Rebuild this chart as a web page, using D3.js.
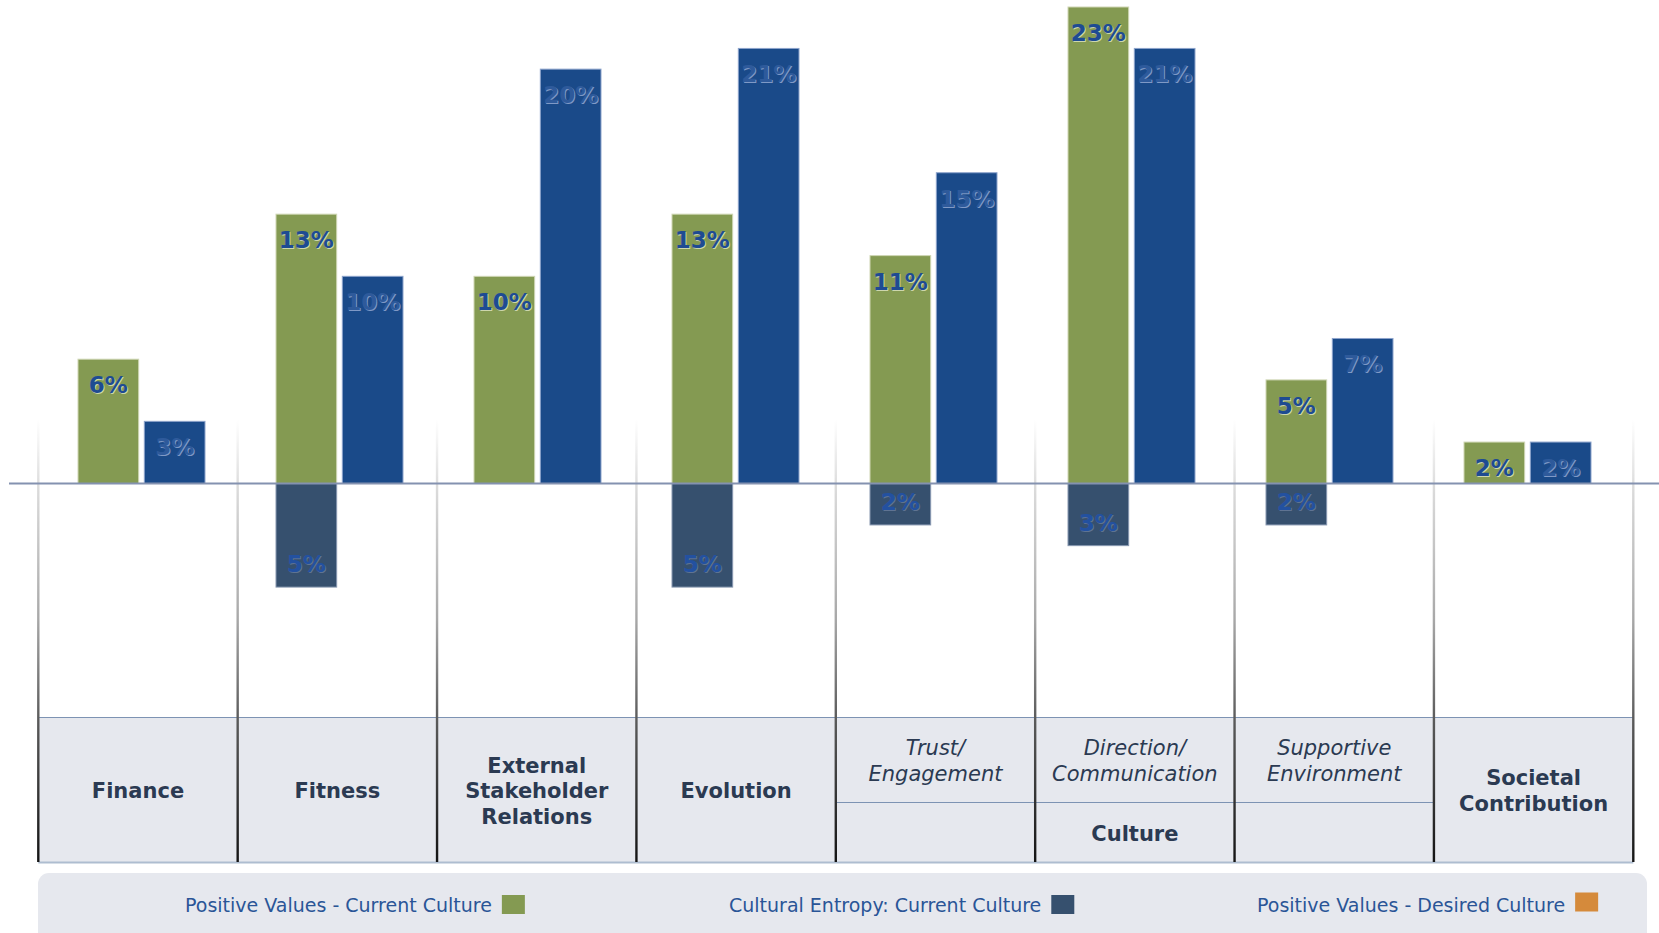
<!DOCTYPE html>
<html>
<head>
<meta charset="utf-8">
<script src="https://cdn.jsdelivr.net/npm/d3@7"></script>
<style>
  html, body { margin: 0; padding: 0; background: #ffffff; }
  svg { display: block; }
</style>
</head>
<body>
<svg id="chart" width="1659" height="933"></svg>
<script>
// ---- data ----
const categories = [
  "Finance", "Fitness", "External Stakeholder Relations", "Evolution",
  "Trust/ Engagement", "Direction/ Communication", "Supportive Environment", "Societal Contribution"
];
const headerLines = [
  ["Finance"], ["Fitness"], ["External", "Stakeholder", "Relations"], ["Evolution"],
  ["Trust/", "Engagement"], ["Direction/", "Communication"], ["Supportive", "Environment"],
  ["Societal", "Contribution"]
];
const cultureColumns = ["Trust/ Engagement", "Direction/ Communication", "Supportive Environment"];
const cultureLabel = "Culture";

const positiveCurrent = [6, 13, 10, 13, 11, 23, 5, 2];   // green bars
const positiveDesired = [3, 10, 20, 21, 15, 21, 7, 2];   // blue bars
const entropyCurrent  = [0, 5, 0, 5, 2, 3, 2, 0];        // below the axis

const legendLabels = [
  "Positive Values - Current Culture",
  "Cultural Entropy: Current Culture",
  "Positive Values - Desired Culture"
];

// ---- styling ----
const COLORS = {
  current: "#849a52",
  desired: "#1a4a89",
  entropy: "#36506e",
  desiredSwatch: "#d58a3b"
};
const legendColors = [COLORS.current, COLORS.entropy, COLORS.desiredSwatch];

const svg = d3.select("#chart");

// ---- scales ----
const y = d3.scaleLinear().domain([0, 23]).range([483.5, 7]);
const xBar = d3.scaleBand().domain(categories).range([42.5, 1626.5]);
const pairWidth = 128;
const xSub = d3.scaleBand().domain(["current", "desired"])
  .range([(xBar.bandwidth() - pairWidth) / 2, (xBar.bandwidth() + pairWidth) / 2])
  .paddingInner(0.07);
const xCol = d3.scaleBand().domain(categories).range([38.3, 1633.3]);

const tableTop = 717.5, tableBottom = 862, cultureSplit = 802.5;

// ---- gradients ----
const defs = svg.append("defs");
const grad = defs.append("linearGradient")
  .attr("id", "dividerGrad")
  .attr("gradientUnits", "userSpaceOnUse")
  .attr("x1", 0).attr("x2", 0).attr("y1", 420).attr("y2", tableBottom);
grad.append("stop").attr("offset", 0).attr("stop-color", "#ffffff");
grad.append("stop").attr("offset", 0.15).attr("stop-color", "#dcdcdc");
grad.append("stop").attr("offset", 0.45).attr("stop-color", "#a8a8a8");
grad.append("stop").attr("offset", 0.68).attr("stop-color", "#5a5a5a");
grad.append("stop").attr("offset", 1).attr("stop-color", "#141414");

// ---- header table ----
svg.append("rect")
  .attr("x", xCol.range()[0]).attr("y", tableTop)
  .attr("width", xCol.range()[1] - xCol.range()[0])
  .attr("height", tableBottom - tableTop)
  .attr("fill", "#e6e8ee");

svg.append("line")
  .attr("x1", xCol.range()[0]).attr("x2", xCol.range()[1])
  .attr("y1", tableTop).attr("y2", tableTop)
  .attr("stroke", "#7d93b3").attr("stroke-width", 1);

svg.append("line")
  .attr("x1", xCol(cultureColumns[0])).attr("x2", xCol(cultureColumns[cultureColumns.length - 1]) + xCol.bandwidth())
  .attr("y1", cultureSplit).attr("y2", cultureSplit)
  .attr("stroke", "#7d93b3").attr("stroke-width", 1);

svg.append("line")
  .attr("x1", xCol.range()[0]).attr("x2", xCol.range()[1])
  .attr("y1", tableBottom + 0.5).attr("y2", tableBottom + 0.5)
  .attr("stroke", "#aebdd0").attr("stroke-width", 2);

// column dividers fading out toward the bars
const dividerX = categories.map(c => xCol(c)).concat([xCol.range()[1]]);
svg.append("g").selectAll("line").data(dividerX).join("line")
  .attr("x1", d => d).attr("x2", d => d)
  .attr("y1", 420).attr("y2", tableBottom)
  .attr("stroke", "url(#dividerGrad)").attr("stroke-width", 2.4);

// column headings
const headG = svg.append("g")
  .attr("font-family", "'DejaVu Sans', Verdana, sans-serif")
  .attr("font-size", 21)
  .attr("fill", "#2b3a52")
  .attr("text-anchor", "middle");

categories.forEach((c, i) => {
  const lines = headerLines[i];
  const cx = xCol(c) + xCol.bandwidth() / 2;
  const italic = cultureColumns.includes(c);
  const mid = italic ? 767.5 : 798;
  const lh = italic ? 26 : 25.5;
  lines.forEach((t, j) => {
    headG.append("text")
      .attr("x", cx)
      .attr("y", mid + (j - (lines.length - 1) / 2) * lh)
      .attr("font-weight", italic ? "normal" : "bold")
      .attr("font-style", italic ? "italic" : "normal")
      .text(t);
  });
});

headG.append("text")
  .attr("x", xCol(cultureColumns[1]) + xCol.bandwidth() / 2)
  .attr("y", 841)
  .attr("font-weight", "bold")
  .text(cultureLabel);

// ---- bars ----
const barsG = svg.append("g");

function bar(cat, slot, v, fill, stroke) {
  barsG.append("rect")
    .attr("x", xBar(cat) + xSub(slot) + 0.5)
    .attr("y", Math.min(y(v), y(0)))
    .attr("width", xSub.bandwidth() - 1)
    .attr("height", Math.abs(y(v) - y(0)))
    .attr("fill", fill)
    .attr("stroke", stroke)
    .attr("stroke-width", 1);
}

categories.forEach((c, i) => {
  bar(c, "current", positiveCurrent[i], COLORS.current, "#cfd6b4");
  bar(c, "desired", positiveDesired[i], COLORS.desired, "#8ca3cb");
  if (entropyCurrent[i] > 0) bar(c, "current", -entropyCurrent[i], COLORS.entropy, "#8797b0");
});

// zero line
svg.append("line")
  .attr("x1", 9).attr("x2", 1659)
  .attr("y1", y(0)).attr("y2", y(0))
  .attr("stroke", "#8492b0").attr("stroke-width", 2);

// ---- value labels (embossed look) ----
const labelG = svg.append("g")
  .attr("font-family", "'DejaVu Sans', Verdana, sans-serif")
  .attr("font-size", 23)
  .attr("font-weight", "bold")
  .attr("text-anchor", "middle");

function label(cat, slot, v, main, shade) {
  const cx = xBar(cat) + xSub(slot) + xSub.bandwidth() / 2;
  const yy = v >= 0 ? y(v) + 34 : y(v) - 15;
  const txt = Math.abs(v) + "%";
  labelG.append("text").attr("x", cx + 1).attr("y", yy + 1)
    .attr("fill", shade).text(txt);
  labelG.append("text").attr("x", cx).attr("y", yy)
    .attr("fill", main).text(txt);
}

categories.forEach((c, i) => {
  label(c, "current", positiveCurrent[i], "#1e4b92", "#cdd6ad");
  label(c, "desired", positiveDesired[i], "#2e5a9b", "#7f99c6");
  if (entropyCurrent[i] > 0) label(c, "current", -entropyCurrent[i], "#2351a0", "#5f7392");
});

// ---- legend ----
svg.append("rect")
  .attr("x", 38).attr("y", 873)
  .attr("width", 1609).attr("height", 90)
  .attr("rx", 11).attr("ry", 11)
  .attr("fill", "#e6e8ee");

const legendTextX = [185, 729, 1257];
const legG = svg.append("g")
  .attr("font-family", "'DejaVu Sans', Verdana, sans-serif")
  .attr("font-size", 19)
  .attr("fill", "#2a5597");

legendLabels.forEach((t, i) => {
  const txt = legG.append("text")
    .attr("x", legendTextX[i]).attr("y", 912)
    .text(t);
  const w = txt.node().getComputedTextLength();
  legG.append("rect")
    .attr("x", legendTextX[i] + w + 10)
    .attr("y", i === 2 ? 892.5 : 895)
    .attr("width", 23).attr("height", 19)
    .attr("fill", legendColors[i]);
});
</script>
</body>
</html>
